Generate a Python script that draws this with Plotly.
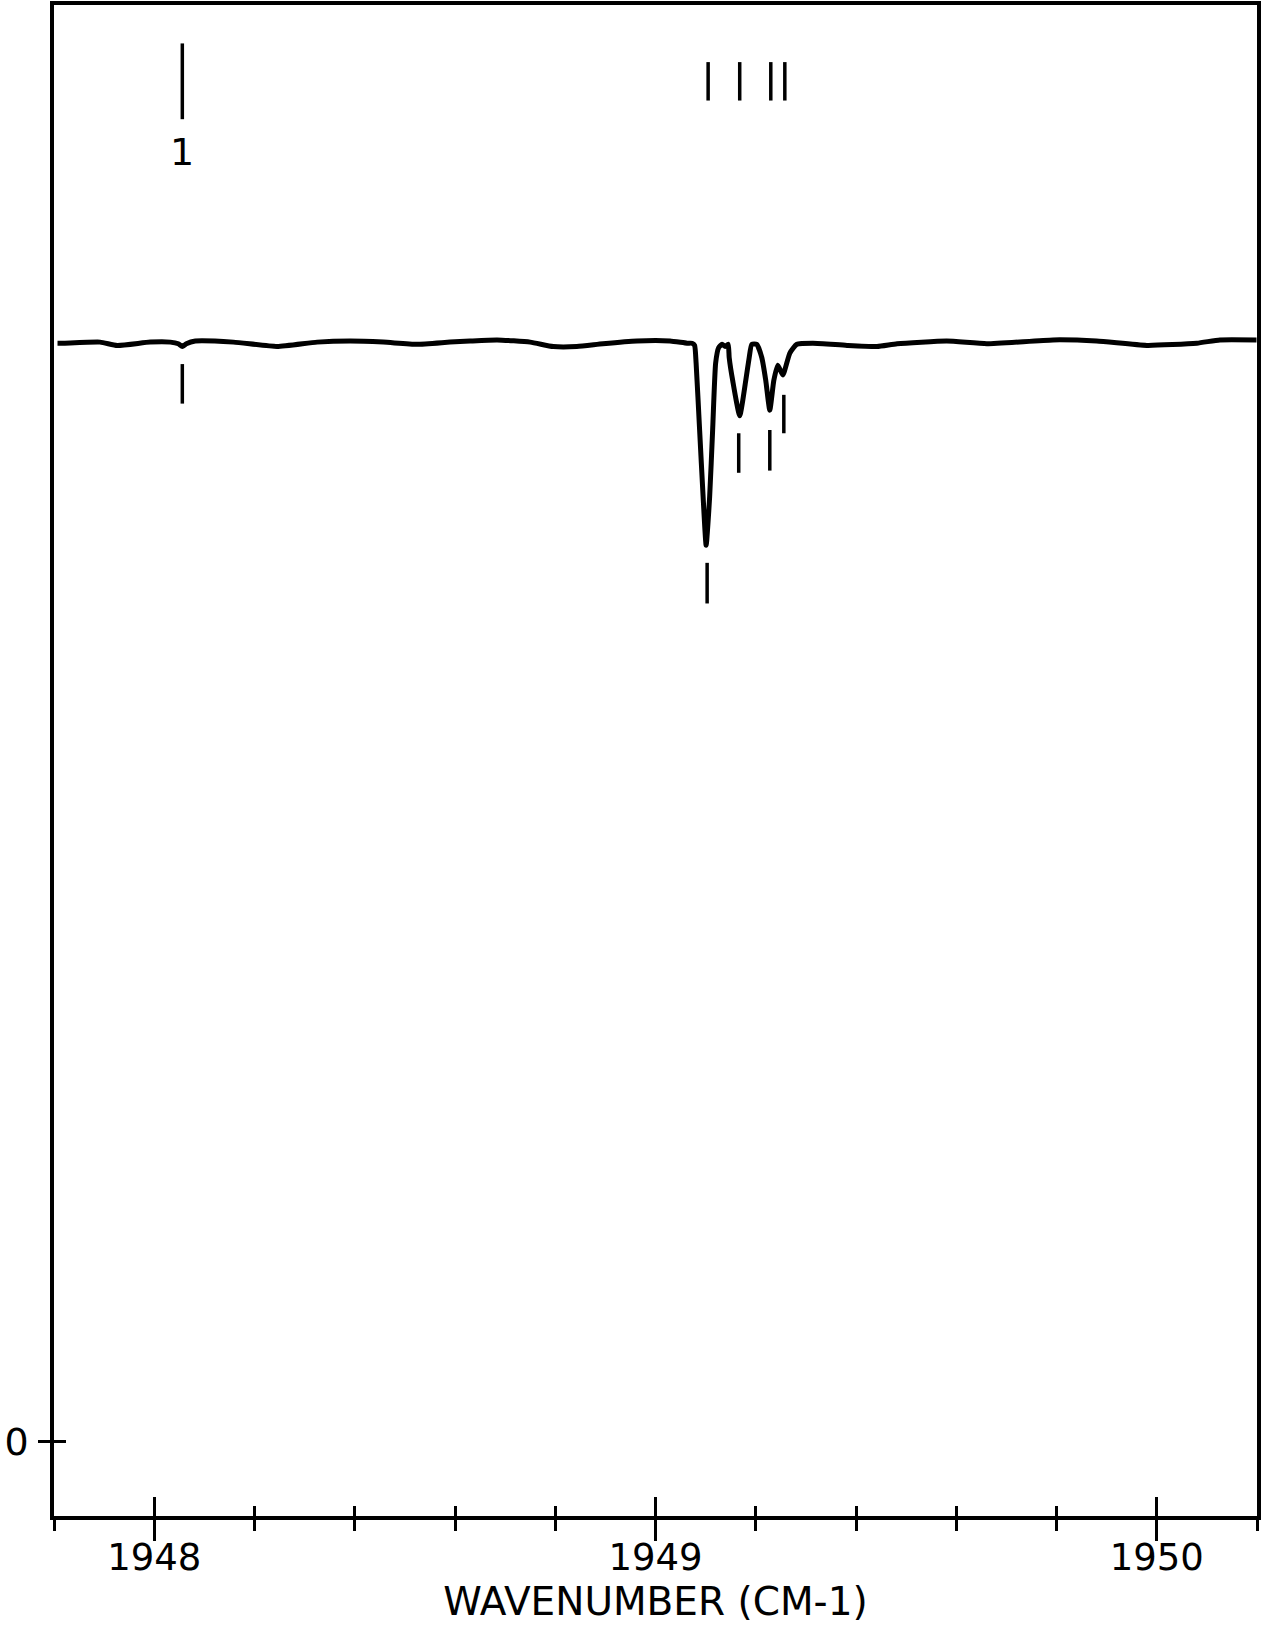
import plotly.graph_objects as go

# Spectrum (wavenumber in cm-1, relative transmission)
wavenumber = [1947.807, 1947.817, 1947.892, 1947.926, 1947.992, 1948.032, 1948.048, 1948.056,
              1948.064, 1948.082, 1948.158, 1948.245, 1948.325, 1948.391, 1948.457, 1948.524,
              1948.590, 1948.630, 1948.684, 1948.750, 1948.796, 1948.843, 1948.895, 1948.963,
              1949.029, 1949.063, 1949.073, 1949.078, 1949.081, 1949.088, 1949.095, 1949.101,
              1949.108, 1949.114, 1949.120, 1949.126, 1949.133, 1949.139, 1949.145, 1949.147,
              1949.154, 1949.168, 1949.180, 1949.187, 1949.192, 1949.202, 1949.212, 1949.220,
              1949.228, 1949.236, 1949.244, 1949.254, 1949.268, 1949.282, 1949.314, 1949.382,
              1949.442, 1949.482, 1949.581, 1949.661, 1949.793, 1949.880, 1949.980, 1950.080,
              1950.126, 1950.199]
transmission = [1.000, 1.000, 1.001, 0.998, 1.001, 1.001, 0.9995, 0.997,
                0.9995, 1.002, 1.001, 0.997, 1.001, 1.002, 1.001, 0.999,
                1.001, 1.002, 1.003, 1.001, 0.997, 0.997, 0.9995, 1.002,
                1.002, 1.000, 1.000, 0.998, 0.982, 0.921, 0.860, 0.816,
                0.860, 0.921, 0.982, 0.996, 0.999, 0.997, 0.999, 0.987,
                0.966, 0.934, 0.966, 0.987, 0.999, 0.999, 0.987, 0.966,
                0.939, 0.966, 0.980, 0.971, 0.991, 0.999, 1.000, 0.998,
                0.997, 0.9995, 1.002, 0.9995, 1.003, 1.002, 0.998, 1.000,
                1.003, 1.003]

# Line-position markers above the spectrum
top_mark_x = [1948.056, 1949.105, 1949.168, 1949.230, 1949.258]
top_mark_lo = [1.204, 1.221, 1.221, 1.221, 1.221]
top_mark_hi = [1.273, 1.256, 1.256, 1.256, 1.256]
top_label_text = ["1"]
top_label_x = [1948.056]
top_label_y = [1.174]

# Peak markers below the spectrum
low_mark_x = [1948.056, 1949.103, 1949.166, 1949.228, 1949.256]
low_mark_lo = [0.945, 0.763, 0.882, 0.884, 0.918]
low_mark_hi = [0.981, 0.800, 0.918, 0.921, 0.953]

x_major = [1948, 1949, 1950]
x_major_text = ["1948", "1949", "1950"]
y_ticks = [0]
y_tick_text = ["0"]
x_range = [1947.8, 1950.2]
y_range = [-0.068, 1.308]

FONT = "DejaVu Sans"

seg_x, seg_y = [], []
for xs, lo, hi in ((top_mark_x, top_mark_lo, top_mark_hi), (low_mark_x, low_mark_lo, low_mark_hi)):
    for x, a, b in zip(xs, lo, hi):
        seg_x += [x, x, None]
        seg_y += [a, b, None]

fig = go.Figure()
fig.add_trace(go.Scatter(x=wavenumber, y=transmission, mode="lines",
                         line=dict(color="black", width=5, shape="spline", smoothing=0.5),
                         hoverinfo="skip", showlegend=False))
fig.add_trace(go.Scatter(x=seg_x, y=seg_y, mode="lines",
                         line=dict(color="black", width=3.5),
                         hoverinfo="skip", showlegend=False))
# empty trace so that the overlay axes (inside halves of the crossing ticks) are drawn
fig.add_trace(go.Scatter(x=[x_range[0]], y=[None], xaxis="x2", yaxis="y2",
                         mode="lines", hoverinfo="skip", showlegend=False))

for t, x, y in zip(top_label_text, top_label_x, top_label_y):
    fig.add_annotation(x=x, y=y, text=t, showarrow=False,
                       font=dict(family=FONT, size=38, color="black"))

fig.update_layout(
    width=1265, height=1625,
    margin=dict(l=54, r=8, t=5, b=109, autoexpand=False),
    paper_bgcolor="white", plot_bgcolor="white",
    xaxis=dict(range=x_range, tickvals=x_major, ticktext=x_major_text, automargin=False,
               ticks="outside", ticklen=21, tickwidth=3, tickcolor="black",
               minor=dict(dtick=0.2, tick0=1947.8, ticks="outside", ticklen=11,
                          tickwidth=3, tickcolor="black", showgrid=False),
               showline=True, linewidth=3.5, linecolor="black", mirror=True,
               showgrid=False, zeroline=False, ticklabelstandoff=-15,
               tickfont=dict(family=FONT, size=37, color="black"),
               title=dict(text="WAVENUMBER (CM-1)", standoff=8,
                          font=dict(family=FONT, size=39, color="black"))),
    yaxis=dict(range=y_range, tickvals=y_ticks, ticktext=y_tick_text, automargin=False,
               ticks="outside", ticklen=12, tickwidth=3, tickcolor="black",
               showline=True, linewidth=3.5, linecolor="black", mirror=True,
               showgrid=False, zeroline=False, ticklabelstandoff=2,
               tickfont=dict(family=FONT, size=38, color="black")),
    xaxis2=dict(range=x_range, overlaying="x", anchor="y2", side="bottom", automargin=False,
                tickvals=x_major, ticks="inside", ticklen=19, tickwidth=3, tickcolor="black",
                minor=dict(dtick=0.2, tick0=1947.8, ticks="inside", ticklen=10,
                           tickwidth=3, tickcolor="black", showgrid=False),
                showticklabels=False, showline=False, showgrid=False, zeroline=False),
    yaxis2=dict(range=y_range, overlaying="y", anchor="x2", side="left", automargin=False,
                tickvals=y_ticks, ticks="inside", ticklen=12, tickwidth=3, tickcolor="black",
                showticklabels=False, showline=False, showgrid=False, zeroline=False),
)

fig.write_html("out.html", config={"displayModeBar": False},
               post_script="document.body.style.margin='0px';document.body.style.overflow='hidden';")
